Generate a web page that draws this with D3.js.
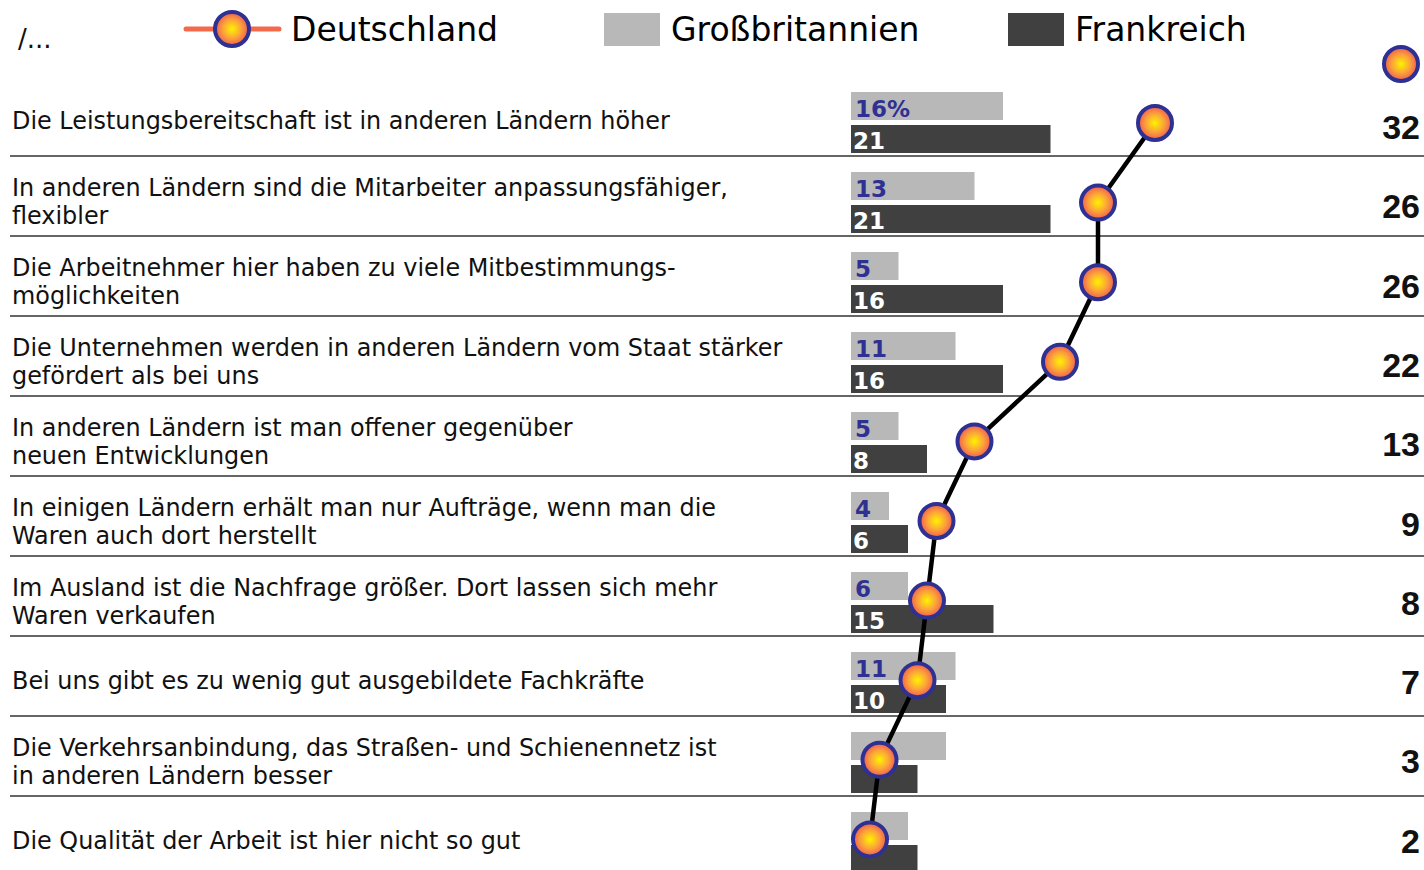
<!DOCTYPE html>
<html>
<head>
<meta charset="utf-8">
<script src="https://cdn.jsdelivr.net/npm/d3@7.9.0/dist/d3.min.js"></script>
<style>
  html, body { margin: 0; padding: 0; background: #fff; }
  svg { display: block; font-family: "DejaVu Sans", sans-serif; }
</style>
</head>
<body>
<svg id="chart" width="1424" height="870"></svg>
<script>
// reasons, one per row
const reasons = [
  ['Die Leistungsbereitschaft ist in anderen Ländern höher'],
  ['In anderen Ländern sind die Mitarbeiter anpassungsfähiger,', 'flexibler'],
  ['Die Arbeitnehmer hier haben zu viele  Mitbestimmungs-', 'möglichkeiten'],
  ['Die Unternehmen werden in anderen Ländern vom Staat stärker', 'gefördert als bei uns'],
  ['In anderen Ländern ist man offener gegenüber', 'neuen Entwicklungen'],
  ['In einigen Ländern erhält man nur Aufträge, wenn man die', 'Waren auch dort herstellt'],
  ['Im Ausland ist die Nachfrage größer. Dort lassen sich mehr', 'Waren verkaufen'],
  ['Bei uns gibt es zu wenig gut ausgebildete Fachkräfte'],
  ['Die Verkehrsanbindung, das Straßen- und Schienennetz ist', 'in anderen Ländern besser'],
  ['Die Qualität der Arbeit ist hier nicht so gut']
];
const deutschland = [32, 26, 26, 22, 13, 9, 8, 7, 3, 2];
const grossbritannien = [16, 13, 5, 11, 5, 4, 6, 11, 10, 6];
const frankreich = [21, 21, 16, 16, 8, 6, 15, 10, 7, 7];
// the last two rows carry no bar labels
const barLabelled = [true, true, true, true, true, true, true, true, false, false];

const svg = d3.select('#chart');
const rowTop = 76, rowH = 80;

const x = d3.scaleLinear().domain([0, 10]).range([851, 946]);
const y = d3.scaleBand().domain(d3.range(reasons.length))
  .range([rowTop, rowTop + rowH * reasons.length]).padding(0);

// gradient for the dots
const defs = svg.append('defs');
const grad = defs.append('radialGradient').attr('id', 'dotGrad');
grad.append('stop').attr('offset', '0%').attr('stop-color', '#fff200');
grad.append('stop').attr('offset', '55%').attr('stop-color', '#fba23a');
grad.append('stop').attr('offset', '100%').attr('stop-color', '#f05a52');

function dot(g, cx, cy) {
  g.append('circle')
    .attr('cx', cx).attr('cy', cy).attr('r', 17)
    .attr('fill', 'url(#dotGrad)')
    .attr('stroke', '#2e3192').attr('stroke-width', 4);
}

// legend
svg.append('text').attr('x', 18).attr('y', 48)
  .attr('font-size', 26).attr('fill', '#111').text('/...');
const leg = svg.append('g');
leg.append('line').attr('x1', 186).attr('x2', 279).attr('y1', 29).attr('y2', 29)
  .attr('stroke', '#f26a4b').attr('stroke-width', 5).attr('stroke-linecap', 'round');
dot(leg, 232, 29);
leg.append('text').attr('x', 291).attr('y', 41).attr('font-size', 33).text('Deutschland');
leg.append('rect').attr('x', 604).attr('y', 13).attr('width', 56).attr('height', 33).attr('fill', '#b8b8b8');
leg.append('text').attr('x', 671).attr('y', 41).attr('font-size', 33).text('Großbritannien');
leg.append('rect').attr('x', 1008).attr('y', 13).attr('width', 56).attr('height', 33).attr('fill', '#404040');
leg.append('text').attr('x', 1075).attr('y', 41).attr('font-size', 33).text('Frankreich');
dot(svg, 1401, 64);

const rows = svg.append('g').selectAll('g').data(reasons).join('g')
  .attr('transform', (d, i) => `translate(0,${y(i)})`);

// separators
rows.filter((d, i) => i < reasons.length - 1).append('line')
  .attr('x1', 10).attr('x2', 1424).attr('y1', rowH).attr('y2', rowH)
  .attr('stroke', '#333').attr('stroke-width', 1.5);

// labels
rows.each(function (lines) {
  const t = d3.select(this).append('text').attr('x', 12).attr('font-size', 23.9).attr('fill', '#111');
  const first = lines.length === 1 ? 53 : 40;
  lines.forEach((l, k) => t.append('tspan').attr('x', 12).attr('y', first + k * 27.5).text(l));
});

// bars
rows.append('rect').attr('x', x(0)).attr('y', 16).attr('height', 28)
  .attr('width', (d, i) => x(grossbritannien[i]) - x(0)).attr('fill', '#b8b8b8');
rows.append('rect').attr('x', x(0)).attr('y', 49).attr('height', 28)
  .attr('width', (d, i) => x(frankreich[i]) - x(0)).attr('fill', '#404040');

const lbl = rows.filter((d, i) => barLabelled[i]);
lbl.append('text').attr('x', 855).attr('y', 41).attr('font-size', 23).attr('font-weight', 'bold')
  .attr('fill', '#2e3192')
  .text(function () { const i = reasons.indexOf(d3.select(this.parentNode).datum()); return i === 0 ? grossbritannien[i] + '%' : grossbritannien[i]; });
lbl.append('text').attr('x', 853).attr('y', 73).attr('font-size', 23).attr('font-weight', 'bold')
  .attr('fill', '#fff')
  .text(function () { const i = reasons.indexOf(d3.select(this.parentNode).datum()); return frankreich[i]; });

// right-hand values for Deutschland
rows.append('text').attr('x', 1420).attr('y', (d, i) => 63 - i * 0.7).attr('text-anchor', 'end')
  .attr('font-family', '"Liberation Sans", Arial, sans-serif')
  .attr('font-size', 34).attr('font-weight', 'bold').attr('fill', '#111')
  .text((d, i) => deutschland[i]);

// Deutschland line and dots
const dotY = i => y(i) + 47 - i * 0.4;
svg.append('path')
  .attr('d', d3.line().x(d => x(d)).y((d, i) => dotY(i))(deutschland))
  .attr('fill', 'none').attr('stroke', '#000').attr('stroke-width', 4.5);
const dots = svg.append('g');
deutschland.forEach((v, i) => dot(dots, x(v), dotY(i)));
</script>
</body>
</html>
